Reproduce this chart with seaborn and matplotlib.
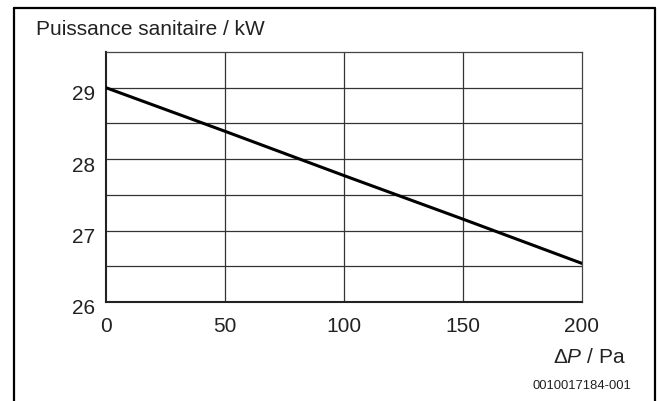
import matplotlib
matplotlib.use("Agg")
import matplotlib.pyplot as plt
import matplotlib.transforms as mtransforms
from matplotlib.lines import Line2D
import seaborn as sns
import pandas as pd

# Data
delta_p = [0, 50, 100, 150, 200]
puissance = [29.0, 28.39, 27.77, 27.16, 26.54]
x_ticks = [0, 50, 100, 150, 200]
y_ticks = [26, 27, 28, 29]
y_grid = [26.5, 27, 27.5, 28, 28.5, 29]

sns.set_style("white")
plt.rcParams['font.family'] = ['Liberation Sans', 'DejaVu Sans']
plt.rcParams['mathtext.fontset'] = 'custom'
plt.rcParams['mathtext.rm'] = 'Liberation Sans'
plt.rcParams['mathtext.it'] = 'Liberation Sans:italic'

W, H = 659, 401
fig = plt.figure(figsize=(W / 100, H / 100), dpi=100)

# axes placement in pixels
left, right, top, bottom = 106, 582, 52, 302
ax = fig.add_axes([left / W, 1 - bottom / H, (right - left) / W, (bottom - top) / H])

df = pd.DataFrame({"dp": delta_p, "p": puissance})
sns.lineplot(data=df, x="dp", y="p", ax=ax, color="black", linewidth=2.2, zorder=5)

FS = 15
ax.set_xlim(0, 200)
ax.set_ylim(26, 29.5)
ax.set_xticks(x_ticks)
ax.set_yticks(y_ticks)
ax.set_xticklabels([str(v) for v in x_ticks], fontsize=FS)
ax.set_yticklabels([str(v) for v in y_ticks], fontsize=FS)
ax.set_xlabel("")
ax.set_ylabel("")
ax.tick_params(axis='x', length=0, pad=11, colors='#222222')
ax.tick_params(axis='y', length=0, pad=8, colors='#222222')
for lab in ax.get_yticklabels():
    lab.set_transform(lab.get_transform() + mtransforms.ScaledTranslation(0, -5 / 100, fig.dpi_scale_trans))

# grid
for yv in y_grid:
    ax.axhline(yv, color='#333333', linewidth=0.9, zorder=1)
for xv in [50, 100, 150]:
    ax.axvline(xv, color='#333333', linewidth=0.9, zorder=1)

for s in ['top', 'right']:
    ax.spines[s].set_color('#444444')
    ax.spines[s].set_linewidth(0.9)
for s in ['left', 'bottom']:
    ax.spines[s].set_color('#222222')
    ax.spines[s].set_linewidth(1.5)

# texts
fig.text(36 / W, 1 - 35 / H, "Puissance sanitaire / kW", fontsize=FS, color='#222222',
         ha='left', va='baseline')
fig.text(626 / W, 1 - 363 / H, r"$\Delta\mathit{P}$ / Pa", fontsize=FS, color='#222222',
         ha='right', va='baseline')
fig.text(631 / W, 1 - 389 / H, "0010017184-001", fontsize=9.4, color='#222222',
         ha='right', va='baseline')

# outer frame (open at bottom)
lw = 1.6
fx0, fx1, fy0 = 13.5 / W, 655 / W, 1 - 7.5 / H
fig.add_artist(Line2D([fx0, fx0], [0, fy0], transform=fig.transFigure, color='black', linewidth=lw))
fig.add_artist(Line2D([fx0, fx1], [fy0, fy0], transform=fig.transFigure, color='black', linewidth=lw))
fig.add_artist(Line2D([fx1, fx1], [fy0, 0], transform=fig.transFigure, color='black', linewidth=lw))

fig.savefig("out.png", dpi=100)
